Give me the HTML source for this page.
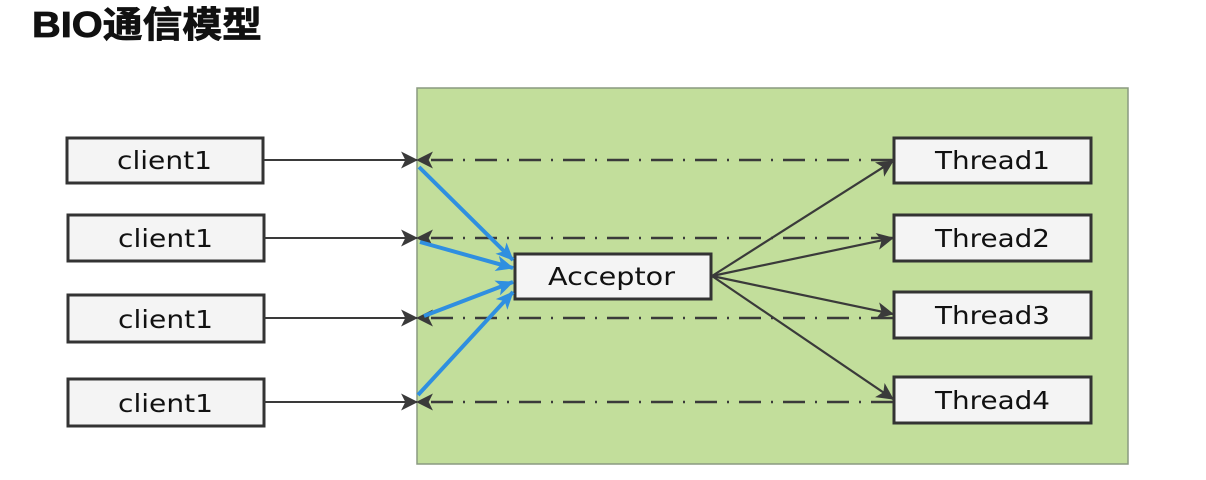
<!DOCTYPE html>
<html><head><meta charset="utf-8"><style>
html,body{margin:0;padding:0;background:#fff;width:1206px;height:480px;overflow:hidden}
svg{display:block}
</style></head><body>
<svg width="1206" height="480" viewBox="0 0 1206 480" xmlns="http://www.w3.org/2000/svg">
<defs>
<marker id="a" viewBox="0 0 16 16" refX="15" refY="8" markerWidth="17" markerHeight="18" markerUnits="userSpaceOnUse" orient="auto">
<path d="M0,0 L16,8 L0,16 L4,8 Z" fill="#3a3a3a"/></marker>
<marker id="b" viewBox="0 0 16 16" refX="15" refY="8" markerWidth="20" markerHeight="18" markerUnits="userSpaceOnUse" orient="auto">
<path d="M0,1 L16,8 L0,15 L4,8 Z" fill="#2f8fe0"/></marker>
</defs>
<text x="32" y="37" font-family="Liberation Sans, 'Noto Sans CJK SC', sans-serif" font-weight="bold" font-size="36" fill="#111" stroke="#111" stroke-width="0.8" textLength="230" lengthAdjust="spacingAndGlyphs">BIO通信模型</text>
<rect x="417" y="88" width="711" height="376" fill="#c2de9b" stroke="#8a9a80" stroke-width="1.5"/>
<g fill="#f4f4f4" stroke="#333" stroke-width="3">
<rect x="67" y="138" width="196" height="45"/>
<rect x="68" y="215" width="196" height="46"/>
<rect x="68" y="295" width="196" height="47"/>
<rect x="68" y="379" width="196" height="47"/>
<rect x="515" y="254" width="196" height="45"/>
<rect x="894" y="138" width="197" height="45"/>
<rect x="894" y="215" width="197" height="46"/>
<rect x="894" y="292" width="197" height="46"/>
<rect x="894" y="377" width="197" height="46"/>
</g>
<g font-family="DejaVu Sans, Liberation Sans, sans-serif" font-size="25" fill="#111">
<text x="117" y="169" textLength="95" lengthAdjust="spacingAndGlyphs">client1</text>
<text x="118" y="247" textLength="95" lengthAdjust="spacingAndGlyphs">client1</text>
<text x="118" y="328" textLength="95" lengthAdjust="spacingAndGlyphs">client1</text>
<text x="118" y="412" textLength="95" lengthAdjust="spacingAndGlyphs">client1</text>
<text x="548" y="285" textLength="127" lengthAdjust="spacingAndGlyphs">Acceptor</text>
<text x="935" y="169" textLength="115" lengthAdjust="spacingAndGlyphs">Thread1</text>
<text x="935" y="247" textLength="115" lengthAdjust="spacingAndGlyphs">Thread2</text>
<text x="935" y="324" textLength="115" lengthAdjust="spacingAndGlyphs">Thread3</text>
<text x="935" y="409" textLength="115" lengthAdjust="spacingAndGlyphs">Thread4</text>
</g>
<g stroke="#3a3a3a" stroke-width="2" fill="none" marker-end="url(#a)">
<line x1="264" y1="160" x2="417" y2="160"/>
<line x1="264" y1="238" x2="417" y2="238"/>
<line x1="264" y1="318" x2="417" y2="318"/>
<line x1="264" y1="402" x2="417" y2="402"/>
</g>
<g stroke="#3a3a3a" stroke-width="2.5" fill="none" stroke-dasharray="22,10,2,10" marker-end="url(#a)">
<line x1="893" y1="160" x2="417" y2="160"/>
<line x1="893" y1="238" x2="417" y2="238"/>
<line x1="893" y1="318" x2="417" y2="318"/>
<line x1="893" y1="402" x2="417" y2="402"/>
</g>
<g stroke="#3a3a3a" stroke-width="2.2" fill="none" marker-end="url(#a)">
<line x1="712" y1="276" x2="893" y2="161"/>
<line x1="712" y1="276" x2="893" y2="238"/>
<line x1="712" y1="276" x2="893" y2="314"/>
<line x1="712" y1="276" x2="893" y2="399"/>
</g>
<g stroke="#2f8fe0" stroke-width="4" fill="none" marker-end="url(#b)">
<line x1="419" y1="167" x2="513" y2="260"/>
<line x1="420" y1="242" x2="513" y2="268"/>
<line x1="424" y1="316" x2="513" y2="282"/>
<line x1="418" y1="395" x2="513" y2="292"/>
</g>
</svg>
</body></html>
